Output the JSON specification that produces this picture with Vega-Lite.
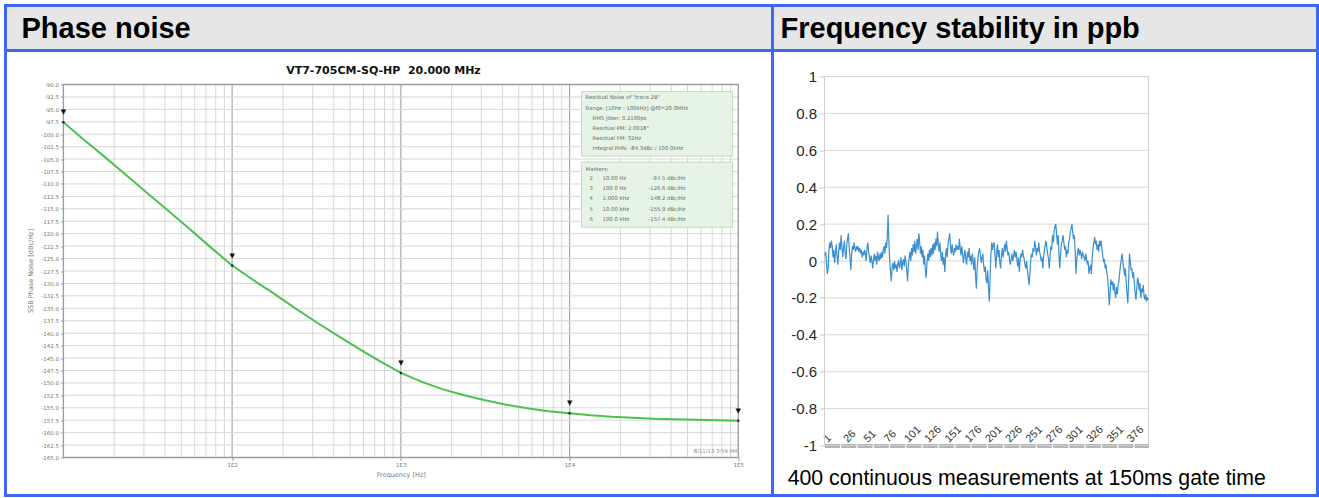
{
  "$schema": "https://vega.github.io/schema/vega-lite/v6.json",
  "background": "white",
  "padding": {"left": 3.5, "top": 3.5, "right": 0, "bottom": 0},
  "spacing": 0,
  "bounds": "flush",
  "columns": 2,
  "config": {
    "view": {"stroke": "#3d68f2", "strokeWidth": 3},
    "concat": {"spacing": 0},
    "axis": {"labelFont": "DejaVu Sans", "titleFont": "DejaVu Sans", "labelOverlap": false, "labelFlush": false},
    "text": {"font": "DejaVu Sans"}
  },
  "datasets": {
    "phase": [
      {"f": 10, "db": -97.6}, {"f": 13.34, "db": -101.2}, {"f": 17.78, "db": -104.7}, {"f": 23.71, "db": -108.3},
      {"f": 31.62, "db": -111.9}, {"f": 42.17, "db": -115.5}, {"f": 56.23, "db": -119.1}, {"f": 74.99, "db": -122.8},
      {"f": 100, "db": -126.4}, {"f": 133.4, "db": -129.3}, {"f": 177.8, "db": -132.1}, {"f": 237.1, "db": -135.0},
      {"f": 316.2, "db": -137.8}, {"f": 421.7, "db": -140.5}, {"f": 562.3, "db": -143.1}, {"f": 749.9, "db": -145.6},
      {"f": 1000, "db": -148.0}, {"f": 1334, "db": -149.8}, {"f": 1778, "db": -151.3}, {"f": 2371, "db": -152.5},
      {"f": 3162, "db": -153.5}, {"f": 4217, "db": -154.4}, {"f": 5623, "db": -155.1}, {"f": 7499, "db": -155.7},
      {"f": 10000, "db": -156.1}, {"f": 13335, "db": -156.5}, {"f": 17783, "db": -156.8}, {"f": 23714, "db": -157.0},
      {"f": 31623, "db": -157.2}, {"f": 42170, "db": -157.3}, {"f": 56234, "db": -157.4}, {"f": 74989, "db": -157.5},
      {"f": 100000, "db": -157.6}
    ],
    "markers": [
      {"n": 2, "f": 10, "db": -97.6}, {"n": 3, "f": 100, "db": -126.4}, {"n": 4, "f": 1000, "db": -148.0},
      {"n": 5, "f": 10000, "db": -156.1}, {"n": 6, "f": 100000, "db": -157.6}
    ],
    "vminor": [
      {"f": 20}, {"f": 30}, {"f": 40}, {"f": 50}, {"f": 60}, {"f": 70}, {"f": 80}, {"f": 90},
      {"f": 200}, {"f": 300}, {"f": 400}, {"f": 500}, {"f": 600}, {"f": 700}, {"f": 800}, {"f": 900},
      {"f": 2000}, {"f": 3000}, {"f": 4000}, {"f": 5000}, {"f": 6000}, {"f": 7000}, {"f": 8000}, {"f": 9000},
      {"f": 20000}, {"f": 30000}, {"f": 40000}, {"f": 50000}, {"f": 60000}, {"f": 70000}, {"f": 80000}, {"f": 90000}
    ],
    "vmajor": [{"f": 100}, {"f": 1000}, {"f": 10000}],
    "hgrid": [
      {"db": -92.5}, {"db": -95}, {"db": -97.5}, {"db": -100}, {"db": -102.5}, {"db": -105}, {"db": -107.5},
      {"db": -110}, {"db": -112.5}, {"db": -115}, {"db": -117.5}, {"db": -120}, {"db": -122.5}, {"db": -125},
      {"db": -127.5}, {"db": -130}, {"db": -132.5}, {"db": -135}, {"db": -137.5}, {"db": -140}, {"db": -142.5},
      {"db": -145}, {"db": -147.5}, {"db": -150}, {"db": -152.5}, {"db": -155}, {"db": -157.5}, {"db": -160}, {"db": -162.5}
    ],
    "rgrid": [
      {"v": -0.8}, {"v": -0.6}, {"v": -0.4}, {"v": -0.2}, {"v": 0}, {"v": 0.2}, {"v": 0.4}, {"v": 0.6}, {"v": 0.8}
    ],
    "ppb": [
      {"i":1,"v":0.03},{"i":2,"v":0.05},{"i":3,"v":-0.02},{"i":4,"v":-0.07},{"i":5,"v":-0.04},{"i":6,"v":0.06},{"i":7,"v":0.1},{"i":8,"v":0.07},{"i":9,"v":0.11},{"i":10,"v":0.08},
      {"i":11,"v":0.02},{"i":12,"v":0.06},{"i":13,"v":-0.01},{"i":14,"v":0.04},{"i":15,"v":0.09},{"i":16,"v":0.03},{"i":17,"v":-0.02},{"i":18,"v":0.05},{"i":19,"v":0.1},{"i":20,"v":0.06},
      {"i":21,"v":0.14},{"i":22,"v":0.08},{"i":23,"v":0.02},{"i":24,"v":0.07},{"i":25,"v":0.11},{"i":26,"v":0.04},{"i":27,"v":0.01},{"i":28,"v":0.09},{"i":29,"v":0.12},{"i":30,"v":0.15},
      {"i":31,"v":0.07},{"i":32,"v":0.02},{"i":33,"v":-0.05},{"i":34,"v":0.04},{"i":35,"v":0.08},{"i":36,"v":0.06},{"i":37,"v":0.1},{"i":38,"v":0.07},{"i":39,"v":0.05},{"i":40,"v":0.08},
      {"i":41,"v":0.06},{"i":42,"v":0.08},{"i":43,"v":0.05},{"i":44,"v":0.07},{"i":45,"v":0.04},{"i":46,"v":0.06},{"i":47,"v":0.02},{"i":48,"v":0.05},{"i":49,"v":0.03},{"i":50,"v":0.06},
      {"i":51,"v":0.04},{"i":52,"v":0},{"i":53,"v":0.07},{"i":54,"v":0.1},{"i":55,"v":0.05},{"i":56,"v":0.02},{"i":57,"v":-0.01},{"i":58,"v":0.03},{"i":59,"v":0},{"i":60,"v":-0.04},
      {"i":61,"v":0.01},{"i":62,"v":0.04},{"i":63,"v":0},{"i":64,"v":0.03},{"i":65,"v":-0.02},{"i":66,"v":0.05},{"i":67,"v":0.02},{"i":68,"v":0},{"i":69,"v":0.04},{"i":70,"v":0.01},
      {"i":71,"v":0.05},{"i":72,"v":0.02},{"i":73,"v":0.06},{"i":74,"v":0.08},{"i":75,"v":0.04},{"i":76,"v":0.1},{"i":77,"v":0.07},{"i":78,"v":0.12},{"i":79,"v":0.25},{"i":80,"v":0.1},
      {"i":81,"v":0},{"i":82,"v":-0.06},{"i":83,"v":-0.11},{"i":84,"v":-0.03},{"i":85,"v":-0.01},{"i":86,"v":-0.05},{"i":87,"v":0},{"i":88,"v":-0.04},{"i":89,"v":-0.02},{"i":90,"v":-0.06},
      {"i":91,"v":-0.01},{"i":92,"v":0},{"i":93,"v":-0.04},{"i":94,"v":-0.02},{"i":95,"v":0.02},{"i":96,"v":-0.05},{"i":97,"v":-0.01},{"i":98,"v":0.01},{"i":99,"v":-0.03},{"i":100,"v":0.03},
      {"i":101,"v":0},{"i":102,"v":-0.05},{"i":103,"v":-0.11},{"i":104,"v":-0.03},{"i":105,"v":0.02},{"i":106,"v":0.05},{"i":107,"v":0},{"i":108,"v":0.07},{"i":109,"v":0.03},{"i":110,"v":0.09},
      {"i":111,"v":0.05},{"i":112,"v":0.11},{"i":113,"v":0.04},{"i":114,"v":0.08},{"i":115,"v":0.12},{"i":116,"v":0.06},{"i":117,"v":0.15},{"i":118,"v":0.1},{"i":119,"v":0.04},{"i":120,"v":0.08},
      {"i":121,"v":0.02},{"i":122,"v":0.06},{"i":123,"v":-0.02},{"i":124,"v":0.03},{"i":125,"v":-0.05},{"i":126,"v":-0.09},{"i":127,"v":-0.01},{"i":128,"v":0.04},{"i":129,"v":0},{"i":130,"v":0.06},
      {"i":131,"v":0.02},{"i":132,"v":0.07},{"i":133,"v":0.03},{"i":134,"v":0.09},{"i":135,"v":0.04},{"i":136,"v":0.1},{"i":137,"v":0.06},{"i":138,"v":0.12},{"i":139,"v":0.08},{"i":140,"v":0.16},
      {"i":141,"v":0.09},{"i":142,"v":0.05},{"i":143,"v":0.1},{"i":144,"v":0.03},{"i":145,"v":0},{"i":146,"v":0.05},{"i":147,"v":-0.02},{"i":148,"v":0.02},{"i":149,"v":-0.06},{"i":150,"v":0.03},
      {"i":151,"v":0.07},{"i":152,"v":0.02},{"i":153,"v":0.09},{"i":154,"v":0.12},{"i":155,"v":0.15},{"i":156,"v":0.08},{"i":157,"v":0.04},{"i":158,"v":0.09},{"i":159,"v":0.05},{"i":160,"v":0.03},
      {"i":161,"v":0.07},{"i":162,"v":0.05},{"i":163,"v":0.09},{"i":164,"v":0.06},{"i":165,"v":0.08},{"i":166,"v":0.06},{"i":167,"v":0.12},{"i":168,"v":0.07},{"i":169,"v":0.03},{"i":170,"v":0.08},
      {"i":171,"v":0.04},{"i":172,"v":-0.01},{"i":173,"v":0.03},{"i":174,"v":0.06},{"i":175,"v":0.01},{"i":176,"v":-0.02},{"i":177,"v":0.05},{"i":178,"v":0.02},{"i":179,"v":0.07},{"i":180,"v":0},
      {"i":181,"v":0.03},{"i":182,"v":-0.02},{"i":183,"v":0.04},{"i":184,"v":0},{"i":185,"v":-0.05},{"i":186,"v":0.02},{"i":187,"v":-0.08},{"i":188,"v":-0.15},{"i":189,"v":-0.04},{"i":190,"v":0.02},
      {"i":191,"v":0.05},{"i":192,"v":0.07},{"i":193,"v":0.03},{"i":194,"v":-0.01},{"i":195,"v":0.02},{"i":196,"v":0.04},{"i":197,"v":-0.02},{"i":198,"v":-0.06},{"i":199,"v":-0.03},{"i":200,"v":-0.1},
      {"i":201,"v":-0.12},{"i":202,"v":-0.05},{"i":203,"v":-0.15},{"i":204,"v":-0.22},{"i":205,"v":-0.08},{"i":206,"v":0.04},{"i":207,"v":0.1},{"i":208,"v":0.06},{"i":209,"v":0.09},{"i":210,"v":0.1},
      {"i":211,"v":0.03},{"i":212,"v":-0.04},{"i":213,"v":0.05},{"i":214,"v":0.09},{"i":215,"v":0.02},{"i":216,"v":0.06},{"i":217,"v":-0.01},{"i":218,"v":-0.04},{"i":219,"v":0.03},{"i":220,"v":0.07},
      {"i":221,"v":0.02},{"i":222,"v":0.06},{"i":223,"v":0.09},{"i":224,"v":0.05},{"i":225,"v":0.11},{"i":226,"v":0.07},{"i":227,"v":0.03},{"i":228,"v":0.05},{"i":229,"v":0},{"i":230,"v":-0.02},
      {"i":231,"v":0.01},{"i":232,"v":0.04},{"i":233,"v":0},{"i":234,"v":0.03},{"i":235,"v":0.06},{"i":236,"v":0.02},{"i":237,"v":0.05},{"i":238,"v":0.01},{"i":239,"v":-0.03},{"i":240,"v":0.02},
      {"i":241,"v":-0.06},{"i":242,"v":0},{"i":243,"v":0.04},{"i":244,"v":0.02},{"i":245,"v":0.06},{"i":246,"v":0.03},{"i":247,"v":0.01},{"i":248,"v":-0.02},{"i":249,"v":-0.04},{"i":250,"v":0},
      {"i":251,"v":-0.05},{"i":252,"v":-0.09},{"i":253,"v":-0.13},{"i":254,"v":-0.07},{"i":255,"v":0},{"i":256,"v":0.04},{"i":257,"v":0.02},{"i":258,"v":0.07},{"i":259,"v":0.05},{"i":260,"v":0.11},
      {"i":261,"v":0.08},{"i":262,"v":0.03},{"i":263,"v":0.07},{"i":264,"v":0.05},{"i":265,"v":0.1},{"i":266,"v":0.05},{"i":267,"v":0.03},{"i":268,"v":0},{"i":269,"v":0.02},{"i":270,"v":-0.04},
      {"i":271,"v":0.02},{"i":272,"v":0.06},{"i":273,"v":0.09},{"i":274,"v":0.11},{"i":275,"v":0.07},{"i":276,"v":0.04},{"i":277,"v":0.01},{"i":278,"v":-0.04},{"i":279,"v":0.03},{"i":280,"v":0.08},
      {"i":281,"v":0.06},{"i":282,"v":0.14},{"i":283,"v":0.1},{"i":284,"v":0.16},{"i":285,"v":0.19},{"i":286,"v":0.2},{"i":287,"v":0.15},{"i":288,"v":0.09},{"i":289,"v":0.14},{"i":290,"v":0.03},
      {"i":291,"v":-0.04},{"i":292,"v":0.04},{"i":293,"v":0.09},{"i":294,"v":0.11},{"i":295,"v":0.14},{"i":296,"v":0.1},{"i":297,"v":0.06},{"i":298,"v":0.08},{"i":299,"v":0.02},{"i":300,"v":0.06},
      {"i":301,"v":0.04},{"i":302,"v":0.1},{"i":303,"v":0.12},{"i":304,"v":0.16},{"i":305,"v":0.18},{"i":306,"v":0.2},{"i":307,"v":0.15},{"i":308,"v":0.12},{"i":309,"v":0.14},{"i":310,"v":0.05},
      {"i":311,"v":-0.07},{"i":312,"v":0.01},{"i":313,"v":0.05},{"i":314,"v":0.07},{"i":315,"v":0.03},{"i":316,"v":0.06},{"i":317,"v":0.04},{"i":318,"v":0.01},{"i":319,"v":0.05},{"i":320,"v":0.03},
      {"i":321,"v":0.02},{"i":322,"v":0},{"i":323,"v":0.04},{"i":324,"v":0.01},{"i":325,"v":-0.02},{"i":326,"v":0},{"i":327,"v":-0.07},{"i":328,"v":-0.04},{"i":329,"v":-0.02},{"i":330,"v":-0.07},
      {"i":331,"v":0.02},{"i":332,"v":0.07},{"i":333,"v":0.1},{"i":334,"v":0.13},{"i":335,"v":0.09},{"i":336,"v":0.11},{"i":337,"v":0.06},{"i":338,"v":0.09},{"i":339,"v":0.05},{"i":340,"v":0.11},
      {"i":341,"v":0.08},{"i":342,"v":0.11},{"i":343,"v":0.06},{"i":344,"v":0.03},{"i":345,"v":0},{"i":346,"v":0.01},{"i":347,"v":-0.04},{"i":348,"v":-0.02},{"i":349,"v":-0.06},{"i":350,"v":-0.09},
      {"i":351,"v":-0.15},{"i":352,"v":-0.24},{"i":353,"v":-0.18},{"i":354,"v":-0.1},{"i":355,"v":-0.13},{"i":356,"v":-0.11},{"i":357,"v":-0.16},{"i":358,"v":-0.12},{"i":359,"v":-0.17},{"i":360,"v":-0.2},
      {"i":361,"v":-0.14},{"i":362,"v":-0.18},{"i":363,"v":-0.13},{"i":364,"v":-0.11},{"i":365,"v":-0.06},{"i":366,"v":-0.02},{"i":367,"v":0.01},{"i":368,"v":0.04},{"i":369,"v":-0.01},{"i":370,"v":-0.04},
      {"i":371,"v":-0.08},{"i":372,"v":-0.04},{"i":373,"v":-0.12},{"i":374,"v":-0.18},{"i":375,"v":-0.23},{"i":376,"v":-0.1},{"i":377,"v":0.04},{"i":378,"v":0},{"i":379,"v":-0.05},{"i":380,"v":-0.04},
      {"i":381,"v":-0.09},{"i":382,"v":-0.06},{"i":383,"v":-0.12},{"i":384,"v":-0.17},{"i":385,"v":-0.21},{"i":386,"v":-0.15},{"i":387,"v":-0.09},{"i":388,"v":-0.11},{"i":389,"v":-0.16},{"i":390,"v":-0.12},
      {"i":391,"v":-0.2},{"i":392,"v":-0.15},{"i":393,"v":-0.17},{"i":394,"v":-0.13},{"i":395,"v":-0.19},{"i":396,"v":-0.21},{"i":397,"v":-0.18},{"i":398,"v":-0.22},{"i":399,"v":-0.2},{"i":400,"v":-0.21}
    ]
  },
  "concat": [
    {
      "width": 767,
      "height": 45,
      "view": {"fill": "#e6e6e6", "stroke": "#3d68f2", "strokeWidth": 3},
      "data": {"values": [{"label": "Phase noise"}]},
      "mark": {"type": "text", "align": "left", "baseline": "middle", "font": "Liberation Sans", "fontWeight": "bold", "fontSize": 29, "dx": 16, "dy": 1, "color": "#000000"},
      "encoding": {
        "x": {"datum": 0, "type": "quantitative", "scale": {"domain": [0, 1], "range": [0, 767]}, "axis": null},
        "text": {"field": "label"}
      }
    },
    {
      "width": 545,
      "height": 45,
      "view": {"fill": "#e6e6e6", "stroke": "#3d68f2", "strokeWidth": 3},
      "data": {"values": [{"label": "Frequency stability in ppb"}]},
      "mark": {"type": "text", "align": "left", "baseline": "middle", "font": "Liberation Sans", "fontWeight": "bold", "fontSize": 29, "dx": 8, "dy": 1, "color": "#000000"},
      "encoding": {
        "x": {"datum": 0, "type": "quantitative", "scale": {"domain": [0, 1], "range": [0, 545]}, "axis": null},
        "text": {"field": "label"}
      }
    },
    {
      "width": 767,
      "height": 445,
      "view": {"fill": "white", "stroke": "#3d68f2", "strokeWidth": 3},
      "data": {"values": [{}]},
      "layer": [
        {
          "data": {"name": "vminor"},
          "mark": {"type": "rule", "color": "#d8d8d8", "strokeWidth": 1},
          "encoding": {
            "x": {"field": "f", "type": "quantitative", "scale": {"type": "log", "domain": [10, 100000], "range": [57.9, 732.8], "nice": false},
              "axis": {"orient": "bottom", "offset": -38, "values": [100, 1000, 10000, 100000], "tickCount": 100, "labelExpr": "'1E' + round(log(datum.value) / LN10)", "labelFontSize": 5.5, "labelColor": "#777777", "tickSize": 3, "tickColor": "#999999", "labelPadding": 2, "domain": false, "grid": false, "title": "Frequency [Hz]", "titleFontSize": 6.5, "titleFontWeight": "normal", "titleColor": "#777777", "titlePadding": 3, "labelFlush": false, "labelOverlap": false}},
            "y": {"datum": -90, "type": "quantitative", "scale": {"domain": [-165, -90], "range": [407, 34], "nice": false, "zero": false},
              "axis": {"orient": "left", "offset": -57.9, "values": [-90, -92.5, -95, -97.5, -100, -102.5, -105, -107.5, -110, -112.5, -115, -117.5, -120, -122.5, -125, -127.5, -130, -132.5, -135, -137.5, -140, -142.5, -145, -147.5, -150, -152.5, -155, -157.5, -160, -162.5, -165], "tickCount": 100, "labelExpr": "replace(format(datum.value, '.1f'), '\u2212', '-')", "labelFontSize": 5.5, "labelColor": "#777777", "tickSize": 3, "tickColor": "#999999", "labelPadding": 2, "domain": false, "grid": false, "title": "SSB Phase Noise [dBc/Hz]", "titleFontSize": 6.5, "titleFontWeight": "normal", "titleColor": "#777777", "titleAngle": -90, "titleX": -33, "titleY": 220, "titleAlign": "center", "titleBaseline": "middle", "labelOverlap": false, "labelFlush": false}},
            "y2": {"datum": -165}
          }
        },
        {
          "data": {"name": "vmajor"},
          "mark": {"type": "rule", "color": "#a9a9a9", "strokeWidth": 1.2},
          "encoding": {
            "x": {"field": "f", "type": "quantitative"},
            "y": {"datum": -90, "type": "quantitative"},
            "y2": {"datum": -165}
          }
        },
        {
          "data": {"name": "hgrid"},
          "mark": {"type": "rule", "color": "#d8d8d8", "strokeWidth": 1},
          "encoding": {
            "y": {"field": "db", "type": "quantitative"},
            "x": {"datum": 10, "type": "quantitative"},
            "x2": {"datum": 100000}
          }
        },
        {
          "mark": {"type": "rect", "filled": false, "color": "#9c9c9c", "strokeWidth": 1.3},
          "encoding": {
            "x": {"datum": 10, "type": "quantitative"},
            "x2": {"datum": 100000},
            "y": {"datum": -90, "type": "quantitative"},
            "y2": {"datum": -165}
          }
        },
        {
          "data": {"name": "phase"},
          "mark": {"type": "line", "color": "#4cc24c", "strokeWidth": 2},
          "encoding": {
            "x": {"field": "f", "type": "quantitative"},
            "y": {"field": "db", "type": "quantitative"}
          }
        },
        {
          "data": {"name": "markers"},
          "mark": {"type": "point", "filled": true, "color": "#222222", "size": 6, "opacity": 1},
          "encoding": {
            "x": {"field": "f", "type": "quantitative"},
            "y": {"field": "db", "type": "quantitative"}
          }
        },
        {
          "data": {"name": "markers"},
          "mark": {"type": "text", "text": "▼", "fontSize": 7, "dy": -10, "color": "#111111", "baseline": "middle"},
          "encoding": {
            "x": {"field": "f", "type": "quantitative"},
            "y": {"field": "db", "type": "quantitative"}
          }
        },
        {
          "mark": {"type": "rect", "fill": "#e6f4e6", "stroke": "#c2d9c2", "strokeWidth": 1},
          "encoding": {
            "x": {"datum": 11780, "type": "quantitative"},
            "x2": {"datum": 92500},
            "y": {"datum": -91.4, "type": "quantitative"},
            "y2": {"datum": -104.4}
          }
        },
        {
          "mark": {"type": "rect", "fill": "#e6f4e6", "stroke": "#c2d9c2", "strokeWidth": 1},
          "encoding": {
            "x": {"datum": 11780, "type": "quantitative"},
            "x2": {"datum": 92500},
            "y": {"datum": -105.6, "type": "quantitative"},
            "y2": {"datum": -118.7}
          }
        },
        {
          "mark": {"type": "text", "text": ["Residual Noise of \"trace 2B\"", "Range: [10Hz : 100kHz] @f0=20.0MHz"], "align": "left", "baseline": "top", "lineHeight": 10.1, "fontSize": 5.3, "color": "#6a6a6a"},
          "encoding": {
            "x": {"datum": 12440, "type": "quantitative"},
            "y": {"datum": -92.21, "type": "quantitative"}
          }
        },
        {
          "mark": {"type": "text", "text": ["RMS Jitter: 0.2100ps", "Residual PM: 2.0018°", "Residual FM: 32Hz", "Integral PHN: -84.3dBc / 100.0kHz"], "align": "left", "baseline": "top", "lineHeight": 10.1, "fontSize": 5.3, "color": "#6a6a6a"},
          "encoding": {
            "x": {"datum": 13690, "type": "quantitative"},
            "y": {"datum": -96.27, "type": "quantitative"}
          }
        },
        {
          "mark": {"type": "text", "text": "Markers:", "align": "left", "baseline": "top", "fontSize": 5.3, "color": "#6a6a6a"},
          "encoding": {
            "x": {"datum": 12440, "type": "quantitative"},
            "y": {"datum": -106.49, "type": "quantitative"}
          }
        },
        {
          "mark": {"type": "text", "text": ["2", "3", "4", "5", "6"], "align": "left", "baseline": "top", "lineHeight": 10.1, "fontSize": 5.3, "color": "#6a6a6a"},
          "encoding": {
            "x": {"datum": 13140, "type": "quantitative"},
            "y": {"datum": -108.44, "type": "quantitative"}
          }
        },
        {
          "mark": {"type": "text", "text": ["10.00 Hz", "100.0 Hz", "1.000 kHz", "10.00 kHz", "100.0 kHz"], "align": "left", "baseline": "top", "lineHeight": 10.1, "fontSize": 5.3, "color": "#6a6a6a"},
          "encoding": {
            "x": {"datum": 15690, "type": "quantitative"},
            "y": {"datum": -108.44, "type": "quantitative"}
          }
        },
        {
          "mark": {"type": "text", "text": ["-97.5 dBc/Hz", "-126.6 dBc/Hz", "-148.2 dBc/Hz", "-155.9 dBc/Hz", "-157.4 dBc/Hz"], "align": "right", "baseline": "top", "lineHeight": 10.1, "fontSize": 5.3, "color": "#6a6a6a"},
          "encoding": {
            "x": {"datum": 48690, "type": "quantitative"},
            "y": {"datum": -108.44, "type": "quantitative"}
          }
        },
        {
          "mark": {"type": "text", "text": "VT7-705CM-SQ-HP\u00a0 20.000 MHz", "align": "center", "baseline": "middle", "font": "DejaVu Sans", "fontWeight": "bold", "fontSize": 11, "color": "#111111"},
          "encoding": {
            "x": {"datum": 789, "type": "quantitative"},
            "y": {"datum": -87.2, "type": "quantitative"}
          }
        },
        {
          "mark": {"type": "text", "text": "8/11/13 3:59 PM", "align": "right", "baseline": "middle", "fontSize": 5.3, "dx": -1, "color": "#888888"},
          "encoding": {
            "x": {"datum": 100000, "type": "quantitative"},
            "y": {"datum": -163.6, "type": "quantitative"}
          }
        }
      ]
    },
    {
      "width": 545,
      "height": 445,
      "view": {"fill": "white", "stroke": "#3d68f2", "strokeWidth": 3},
      "data": {"values": [{}]},
      "layer": [
        {
          "data": {"name": "rgrid"},
          "mark": {"type": "rule", "color": "#d9d9d9", "strokeWidth": 1},
          "encoding": {
            "y": {"field": "v", "type": "quantitative", "scale": {"domain": [-1, 1], "range": [395, 26], "nice": false, "zero": false},
              "axis": {"orient": "left", "offset": -52, "values": [-1, -0.8, -0.6, -0.4, -0.2, 0, 0.2, 0.4, 0.6, 0.8, 1], "tickCount": 100, "labelExpr": "replace(format(datum.value, '~g'), '\u2212', '-')", "labelFont": "Liberation Sans", "labelFontSize": 15, "labelColor": "#262626", "tickSize": 5, "tickColor": "#c8c8c8", "labelPadding": 3, "domain": false, "grid": false, "title": null, "labelOverlap": false, "labelFlush": false, "labelBound": false}},
            "x": {"datum": 0.5, "type": "quantitative", "scale": {"domain": [0.5, 400.5], "range": [52, 376], "nice": false, "zero": false},
              "axis": {"orient": "bottom", "offset": -50, "values": [1, 26, 51, 76, 101, 126, 151, 176, 201, 226, 251, 276, 301, 326, 351, 376], "tickCount": 100, "labelAngle": -45, "labelAlign": "left", "labelBaseline": "middle", "labelPadding": -5, "ticks": false, "tickSize": 0, "domain": true, "domainColor": "#b5b5b5", "domainWidth": 4, "domainDash": [15, 1.3], "labelFont": "Liberation Sans", "labelFontSize": 11, "labelColor": "#333333", "title": null, "grid": false, "labelOverlap": false, "labelFlush": false, "labelBound": false}},
            "x2": {"datum": 400.5}
          }
        },
        {
          "mark": {"type": "rect", "filled": false, "color": "#d0d0d0", "strokeWidth": 1},
          "encoding": {
            "x": {"datum": 0.5, "type": "quantitative"},
            "x2": {"datum": 400.5},
            "y": {"datum": -1, "type": "quantitative"},
            "y2": {"datum": 1}
          }
        },
        {
          "data": {"name": "ppb"},
          "mark": {"type": "line", "color": "#3a8fd1", "strokeWidth": 1.2},
          "encoding": {
            "x": {"field": "i", "type": "quantitative"},
            "y": {"field": "v", "type": "quantitative"}
          }
        },
        {
          "mark": {"type": "text", "text": "400 continuous measurements at 150ms gate time", "align": "left", "baseline": "middle", "font": "Liberation Sans", "fontSize": 21.3, "color": "#000000"},
          "encoding": {
            "x": {"datum": -45, "type": "quantitative"},
            "y": {"datum": -1.179, "type": "quantitative"}
          }
        }
      ]
    }
  ]
}
